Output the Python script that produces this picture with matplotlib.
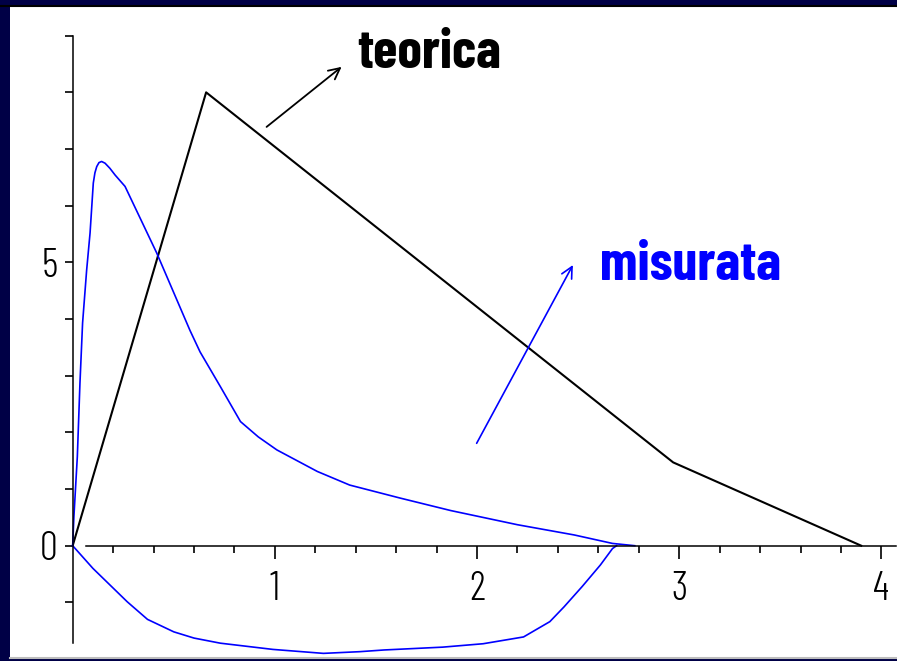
import numpy as np
import matplotlib
matplotlib.use("Agg")
import matplotlib.pyplot as plt
from matplotlib.lines import Line2D

# ---- data ----
teorica_x = [0.0, 0.66, 2.97, 3.90]
teorica_y = [0.0, 8.0, 1.47, 0.0]

mis_up_x = [0.0, 0.006, 0.023, 0.036, 0.049, 0.069, 0.086, 0.102, 0.110, 0.119,
            0.130, 0.143, 0.160, 0.184, 0.21, 0.259, 0.415, 0.58, 0.63, 0.73,
            0.83, 0.918, 1.01, 1.21, 1.37, 1.62, 1.87, 2.20, 2.48, 2.67, 2.78]
mis_up_y = [0.0, 0.51, 1.57, 2.87, 3.93, 4.86, 5.52, 6.40, 6.58, 6.69,
            6.76, 6.78, 6.75, 6.66, 6.54, 6.34, 5.17, 3.80, 3.42, 2.81,
            2.19, 1.92, 1.69, 1.31, 1.07, 0.84, 0.62, 0.37, 0.19, 0.04, 0.0]

mis_low_x = [0.0, 0.10, 0.27, 0.37, 0.50, 0.60, 0.73, 0.99, 1.24, 1.42, 1.54,
             1.83, 2.03, 2.23, 2.36, 2.43, 2.52, 2.61, 2.67, 2.69]
mis_low_y = [0.0, -0.40, -0.99, -1.30, -1.52, -1.63, -1.72, -1.83, -1.90, -1.87, -1.84,
             -1.79, -1.73, -1.61, -1.34, -1.08, -0.72, -0.34, -0.05, 0.0]

x_major = [1, 2, 3, 4]
x_labels = ["1", "2", "3", "4"]
y_major = [-1, 0, 1, 2, 3, 4, 5, 6, 7, 8, 9]
y_labels = ["", "0", "", "", "", "", "5", "", "", "", ""]

label_teorica = "teorica"
label_misurata = "misurata"

FONT = ["Barlow Condensed", "Liberation Sans", "DejaVu Sans"]

# ---- figure ----
W, H = 897, 661
fig = plt.figure(figsize=(W / 100, H / 100), dpi=100, facecolor="#000046")
ax = fig.add_axes([10 / W, 4 / H, 887 / W, 650 / H])
ax.set_facecolor("white")
ax.set_xlim(-0.310, 4.077)
ax.set_ylim(-1.964, 9.506)

# frame details
fig.add_artist(Line2D([10 / W, 1], [3 / H, 3 / H], color="#bdbdbd", lw=1.5))
fig.add_artist(Line2D([0, 1], [(H - 6) / H, (H - 6) / H], color="black", lw=1.5))

# axes through origin
for s in ["top", "right"]:
    ax.spines[s].set_visible(False)
ax.spines["left"].set_position(("data", 0))
ax.spines["bottom"].set_position(("data", 0))
ax.spines["left"].set_bounds(-1.72, 9.0)
ax.spines["bottom"].set_bounds(0.066, 4.07)
ax.spines["left"].set_linewidth(1.1)
ax.spines["bottom"].set_linewidth(1.1)

ax.set_xticks(x_major)
ax.set_xticklabels(x_labels)
ax.set_xticks([v for v in np.arange(0.2, 4.0, 0.2) if abs(v - round(v)) > 1e-6], minor=True)
ax.set_yticks(y_major)
ax.set_yticklabels(y_labels)

ax.tick_params(axis="x", which="major", direction="out", length=9.4, width=1.2,
               pad=9, labelsize=29)
ax.tick_params(axis="x", which="minor", direction="out", length=5, width=1.2)
ax.tick_params(axis="y", which="major", direction="out", length=5.8, width=1.2,
               pad=5.0, labelsize=29)
for lab in ax.get_xticklabels() + ax.get_yticklabels():
    lab.set_family(FONT)
    lab.set_fontweight(300)

# curves
ax.plot(teorica_x, teorica_y, color="black", lw=1.5, clip_on=False)
ax.plot(mis_up_x, mis_up_y, color="#0000ff", lw=1.2, clip_on=False)
ax.plot(mis_low_x, mis_low_y, color="#0000ff", lw=1.2, clip_on=False)

# annotations
ax.annotate("", xy=(1.330, 8.45), xytext=(0.959, 7.39),
            arrowprops=dict(arrowstyle="->", color="black", lw=1.3,
                            shrinkA=0, shrinkB=0, mutation_scale=20))
ax.text(1.406, 8.43, label_teorica, fontsize=40, fontweight="bold",
        family=FONT, color="black", ha="left", va="baseline")

ax.annotate("", xy=(2.474, 4.953), xytext=(1.998, 1.807),
            arrowprops=dict(arrowstyle="->", color="#0000ff", lw=1.2,
                            shrinkA=0, shrinkB=0, mutation_scale=20))
ax.text(2.608, 4.69, label_misurata, fontsize=40, fontweight="bold",
        family=FONT, color="#0000ff", ha="left", va="baseline")

fig.savefig("out.png", dpi=100, facecolor=fig.get_facecolor())
